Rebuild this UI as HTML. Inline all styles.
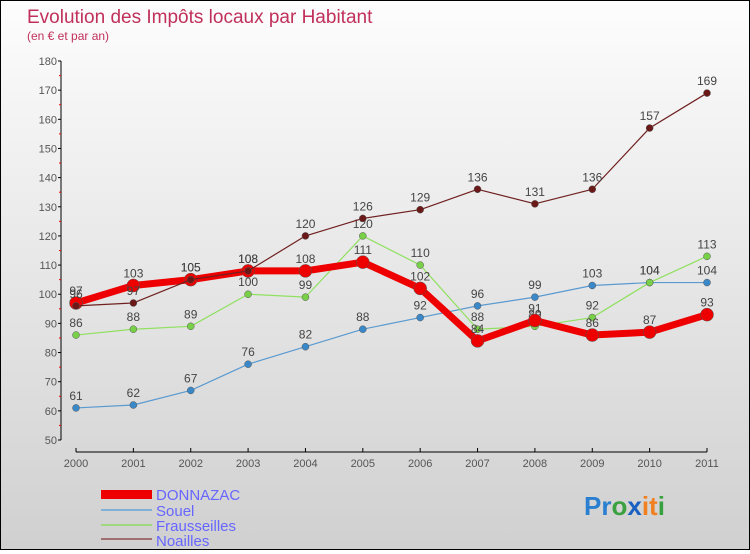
<!DOCTYPE html>
<html><head><meta charset="utf-8"><style>
body{margin:0;width:750px;height:550px;overflow:hidden;font-family:"Liberation Sans",sans-serif}
#wrap{position:relative;width:748px;height:548px;border:1px solid #000;background:linear-gradient(#fdfdfd,#d0d0d0)}
svg text{font-family:"Liberation Sans",sans-serif}
</style></head><body>
<div id="wrap">
<svg id="chart" width="748" height="548">
<text x="26" y="22" font-size="19" fill="#c0305a">Evolution des Impôts locaux par Habitant</text>
<text x="26" y="39" font-size="12" fill="#c0305a">(en € et par an)</text>
<g id="axes"></g><g id="series"></g>
<g>
<rect x="100" y="489" width="51" height="9" fill="#e00"/>
<text x="155" y="499" font-size="15" fill="#66f">DONNAZAC</text>
<line x1="100" y1="509" x2="151" y2="509" stroke="#7fb0d8" stroke-width="2"/>
<text x="155" y="515" font-size="15" fill="#66f">Souel</text>
<line x1="100" y1="524" x2="151" y2="524" stroke="#a0d880" stroke-width="2"/>
<text x="155" y="530" font-size="15" fill="#66f">Frausseilles</text>
<line x1="100" y1="538" x2="151" y2="538" stroke="#a07070" stroke-width="2"/>
<text x="155" y="545" font-size="15" fill="#66f">Noailles</text>
</g>
<text x="583" y="514" font-size="26" font-weight="bold"><tspan fill="#2a7fd0">Pr</tspan><tspan fill="#3aa040">o</tspan><tspan fill="#1a60c0">x</tspan><tspan fill="#f08020">it</tspan><tspan fill="#3aa040">i</tspan></text>
</svg></div>
<script>
const years=["2000","2001","2002","2003","2004","2005","2006","2007","2008","2009","2010","2011"];
const yTicks=[50,60,70,80,90,100,110,120,130,140,150,160,170,180];
const donnazac=[97,103,105,108,108,111,102,84,91,86,87,93];
const souel=[61,62,67,76,82,88,92,96,99,103,104,104];
const frausseilles=[86,88,89,100,99,120,110,88,89,92,104,113];
const noailles=[96,97,105,108,120,126,129,136,131,136,157,169];
const NS="http://www.w3.org/2000/svg";
const X=i=>75+i*(631/11);
const Y=v=>439-(v-50)*(379/130);
function mk(t,a,p){const e=document.createElementNS(NS,t);for(const k in a)e.setAttribute(k,a[k]);p.appendChild(e);return e;}
const ax=document.getElementById('axes');
let yl=mk('line',{x1:60,y1:Y(180),x2:60,y2:Y(50),stroke:'#000'},ax);


yTicks.forEach(v=>{
 mk('line',{x1:57,x2:60,y1:Y(v),y2:Y(v),stroke:'#000'},ax);
 if(v<180)mk('line',{x1:58,x2:60,y1:Y(v+5),y2:Y(v+5),stroke:'#e00'},ax);
 const t=mk('text',{x:56,y:Y(v)+4,'font-size':11,fill:'#555','text-anchor':'end'},ax);t.textContent=v;
 
 
});
let xl=mk('line',{x1:75,y1:451,x2:706,y2:451,stroke:'#000'},ax);


years.forEach((y,i)=>{
 mk('line',{x1:X(i),x2:X(i),y1:447,y2:451,stroke:'#000'},ax);
 const t=mk('text',{x:X(i),y:466,'font-size':11,fill:'#555','text-anchor':'middle'},ax);t.textContent=y;
 
 
});
const sg=document.getElementById('series');
function draw(name,data,color,w,r,dot){
 const g=mk('g',{},sg);
 
 
 const p=mk('polyline',{points:data.map((v,i)=>X(i)+','+Y(v)).join(' '),fill:'none',stroke:color,'stroke-width':w,'stroke-linejoin':'round'},g);
 
 
 data.forEach((v,i)=>{
  const c=mk('circle',{cx:X(i),cy:Y(v),r:r,fill:dot,stroke:'#555','stroke-width':0.5},g);
  
  
  const t=mk('text',{x:X(i),y:Y(v)-8,'font-size':12,fill:'#444','text-anchor':'middle'},g);t.textContent=v;
  
  
 });
}
draw('souel',souel,'#5a9ad0',1.2,3.5,'#3a88c8');
draw('frausseilles',frausseilles,'#90e060',1.2,3.5,'#78d048');
draw('donnazac',donnazac,'#e00',7,6.5,'#e00');
draw('noailles',noailles,'#702020',1.2,3.5,'#6a1818');
</script>
</body></html>
